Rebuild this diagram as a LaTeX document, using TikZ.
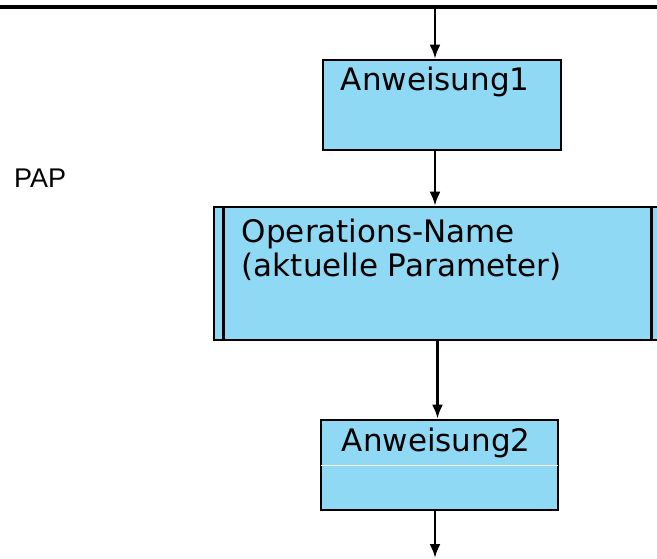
\documentclass[tikz,border=0pt]{standalone}
\usepackage{fontspec}
\setmainfont{DejaVu Sans}
\newfontfamily\papfont{Liberation Sans}
\usetikzlibrary{arrows.meta}
\definecolor{papblue}{RGB}{144,217,245}

\begin{document}
\begin{tikzpicture}[x=1pt,y=-1pt,
box/.style={draw,line width=2.6pt,fill=papblue,inner sep=0,minimum width=238pt,minimum height=90pt},
txt/.style={inner sep=0,anchor=base west,font=\fontsize{31}{35}\selectfont},
flow/.style={line width=2.6pt,-{Latex[length=14pt,width=11pt]}}]

\useasboundingbox (0,0) rectangle (657,558);

\coordinate (top) at (435,7);
\coordinate (end) at (435,558);
\draw[line width=3.2pt] (0,7) -- (657,7);

\node[box] (anw1) at (442,105) {};
\node[box,minimum width=447pt,minimum height=133pt] (op) at (437.5,273.5) {};
\node[box,minimum width=237pt] (anw2) at (439.5,465) {};

\draw[line width=2.6pt] ([xshift=11pt]op.north west) -- ([xshift=11pt]op.south west);
\draw[line width=2.6pt] ([xshift=-11pt]op.north east) -- ([xshift=-11pt]op.south east);
\draw[white,line width=1pt] ([xshift=1.3pt,yshift=-47pt]anw2.north west) -- ([xshift=-1.3pt,yshift=-47pt]anw2.north east);

\node[txt] (t1) at ([shift={(19,32)}]anw1.north west) {Anweisung1};
\node[txt] (t2) at ([shift={(29,37)}]op.north west) {Operations-Name};
\node[txt] (t3) at ([shift={(0,34)}]t2.base west) {(aktuelle Parameter)};
\node[txt] (t4) at ([shift={(22,33)}]anw2.north west) {Anweisung2};
\node[inner sep=0,anchor=base west,font=\papfont\fontsize{27}{32}\selectfont] (pap) at (14,187) {PAP};

\draw[flow] (top) -- (top |- anw1.north);
\draw[flow] (anw1.south -| top) -- (op.north -| top);
\draw[flow] (op.south) -- (op.south |- anw2.north);
\draw[flow] (anw2.south -| end) -- (end);

\end{tikzpicture}
\end{document}
